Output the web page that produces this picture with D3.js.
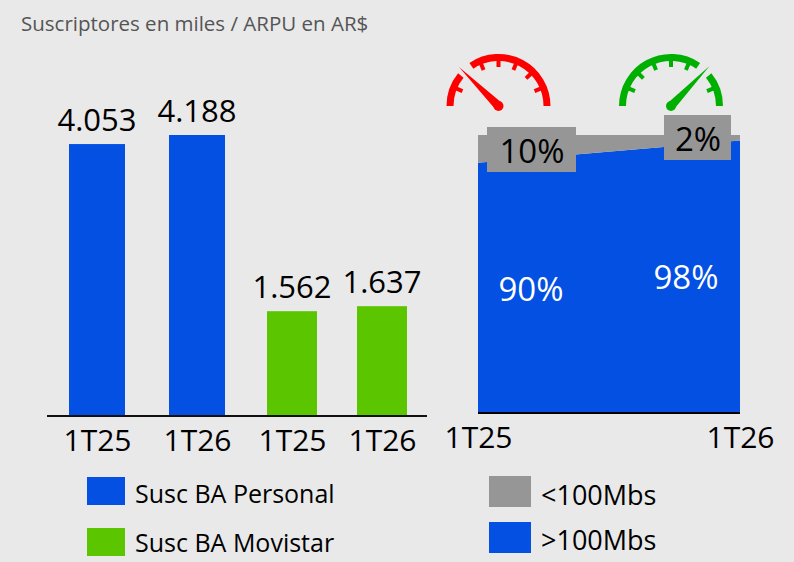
<!DOCTYPE html>
<html>
<head>
<meta charset="utf-8">
<script src="https://cdn.jsdelivr.net/npm/d3@7"></script>
<style>
html, body { margin: 0; padding: 0; background: #e9e9e9; }
svg { display: block; }
text { font-family: "Open Sans", sans-serif; }
</style>
</head>
<body>
<svg width="794" height="562"></svg>
<script>
var title = "Suscriptores en miles / ARPU en AR$";

// barras
var barLabels = ["1T25", "1T26", "1T25", "1T26"];
var barValues = [4053, 4188, 1562, 1637];
var barText = ["4.053", "4.188", "1.562", "1.637"];
var barSeries = ["Personal", "Personal", "Movistar", "Movistar"];

// area
var periods = ["1T25", "1T26"];
var over100 = [90, 98];
var under100 = [10, 2];

var blue = "#0350e3", green = "#5bc500", grey = "#969696";

var svg = d3.select("svg");

svg.append("text")
	.attr("x", 21).attr("y", 31)
	.attr("font-size", 20.5)
	.attr("fill", "#555")
	.text(title);

// ---- bar chart ----
var x = d3.scaleOrdinal().domain(d3.range(4)).range([97, 197, 292, 382]);
var y = d3.scaleLinear().domain([0, 4188]).range([416, 135]);
var barWidth = {Personal: 56, Movistar: 50};

svg.selectAll(".bar")
	.data(barValues)
	.enter().append("rect")
	.attr("class", "bar")
	.attr("x", function(d, i) { return x(i) - barWidth[barSeries[i]] / 2; })
	.attr("y", function(d) { return y(d); })
	.attr("width", function(d, i) { return barWidth[barSeries[i]]; })
	.attr("height", function(d) { return y(0) - y(d); })
	.attr("fill", function(d, i) { return barSeries[i] == "Personal" ? blue : green; });

svg.selectAll(".barval")
	.data(barValues)
	.enter().append("text")
	.attr("class", "barval")
	.attr("x", function(d, i) { return x(i); })
	.attr("y", function(d) { return y(d) - 13; })
	.attr("text-anchor", "middle")
	.attr("font-size", 31)
	.attr("fill", "#000")
	.text(function(d, i) { return barText[i]; });

var xAxis = svg.append("g")
	.attr("transform", "translate(0,416)")
	.call(d3.axisBottom(x).tickSize(0).tickPadding(14).tickFormat(function(d) { return barLabels[d]; }));
xAxis.select(".domain").remove();
xAxis.selectAll("text").attr("font-size", 30).attr("font-family", null).attr("fill", "#000");

svg.append("line")
	.attr("x1", 47).attr("x2", 427)
	.attr("y1", 416).attr("y2", 416)
	.attr("stroke", "#111").attr("stroke-width", 2);

// ---- stacked area ----
var areaX = d3.scalePoint().domain(periods).range([478, 740]);
var areaY = d3.scaleLinear().domain([0, 100]).range([413, 135]);

var rows = periods.map(function(p, i) {
	return {period: p, over: over100[i], under: under100[i]};
});
var stack = d3.stack().keys(["over", "under"])(rows);
var area = d3.area()
	.x(function(d) { return areaX(d.data.period); })
	.y0(function(d) { return areaY(d[0]); })
	.y1(function(d) { return areaY(d[1]); });

svg.selectAll(".layer")
	.data(stack)
	.enter().append("path")
	.attr("class", "layer")
	.attr("fill", function(d) { return d.key == "over" ? blue : grey; })
	.attr("d", area);

svg.append("line")
	.attr("x1", 478).attr("x2", 740)
	.attr("y1", 413).attr("y2", 413)
	.attr("stroke", "#000").attr("stroke-width", 2);

var aAxis = svg.append("g")
	.attr("transform", "translate(0,413)")
	.call(d3.axisBottom(areaX).tickSize(0).tickPadding(14));
aAxis.select(".domain").remove();
aAxis.selectAll("text").attr("font-size", 30).attr("font-family", null).attr("fill", "#000");

// cajas grises con %
var boxes = [
	{x: 487, y: 127, w: 89, h: 45, cy: 163, i: 0},
	{x: 664, y: 115, w: 67, h: 45, cy: 151, i: 1}
];
svg.selectAll(".box")
	.data(boxes)
	.enter().append("rect")
	.attr("class", "box")
	.attr("x", function(d) { return d.x; })
	.attr("y", function(d) { return d.y; })
	.attr("width", function(d) { return d.w; })
	.attr("height", function(d) { return d.h; })
	.attr("fill", grey);

svg.selectAll(".boxval")
	.data(boxes)
	.enter().append("text")
	.attr("class", "boxval")
	.attr("x", function(d) { return d.x + d.w / 2 + 0.5; })
	.attr("y", function(d) { return d.cy; })
	.attr("text-anchor", "middle")
	.attr("font-size", 33)
	.attr("fill", "#000")
	.text(function(d) { return under100[d.i] + "%"; });

var overPos = [{x: 531, y: 301}, {x: 686, y: 289}];
svg.selectAll(".overval")
	.data(over100)
	.enter().append("text")
	.attr("class", "overval")
	.attr("x", function(d, i) { return overPos[i].x; })
	.attr("y", function(d, i) { return overPos[i].y; })
	.attr("text-anchor", "middle")
	.attr("font-size", 33)
	.attr("fill", "#fff")
	.text(function(d) { return d + "%"; });

// ---- velocimetros ----
var rad = Math.PI / 180;
function gauge(cx, cy, color, segments, ticks, tip) {
	var g = svg.append("g").attr("transform", "translate(" + cx + "," + cy + ")");
	var ring = d3.arc().innerRadius(45).outerRadius(52);
	segments.forEach(function(s) {
		g.append("path")
			.attr("fill", color)
			.attr("d", ring({startAngle: s[0] * rad, endAngle: s[1] * rad}));
	});
	ticks.forEach(function(a) {
		g.append("line")
			.attr("x1", 46 * Math.sin(a * rad)).attr("y1", -46 * Math.cos(a * rad))
			.attr("x2", 39 * Math.sin(a * rad)).attr("y2", -39 * Math.cos(a * rad))
			.attr("stroke", color).attr("stroke-width", 4);
	});
	// aguja
	var len = Math.sqrt(tip[0] * tip[0] + tip[1] * tip[1]);
	var nx = -tip[1] / len * 4.5, ny = tip[0] / len * 4.5;
	g.append("path")
		.attr("fill", color)
		.attr("d", "M" + tip[0] + "," + tip[1] + "L" + nx + "," + ny + "L" + (-nx) + "," + (-ny) + "Z");
	g.append("circle").attr("cx", 0).attr("cy", 0).attr("r", 5).attr("fill", color);
}
gauge(498.5, 106, "#ff0000", [[-90, -51], [-34, 90]], [-67.5, -22.5, 0, 22.5, 45, 67.5], [-39.5, -39]);
gauge(671, 106, "#00b000", [[-90, 34], [51, 90]], [-67.5, -45, -22.5, 0, 22.5, 67.5], [38.5, -40]);

// ---- leyendas ----
var legendLeft = [
	{label: "Susc BA Personal", color: blue, y: 477, h: 28, ty: 503},
	{label: "Susc BA Movistar", color: green, y: 528, h: 28, ty: 552}
];
var legendRight = [
	{label: "<100Mbs", color: grey, y: 476, h: 31, ty: 505},
	{label: ">100Mbs", color: blue, y: 522, h: 31, ty: 550}
];
function legend(items, sx, sw, tx, size) {
	items.forEach(function(d) {
		svg.append("rect").attr("x", sx).attr("y", d.y).attr("width", sw).attr("height", d.h).attr("fill", d.color);
		svg.append("text").attr("x", tx).attr("y", d.ty).attr("font-size", size).attr("fill", "#000").text(d.label);
	});
}
legend(legendLeft, 87, 38, 135, 25);
legend(legendRight, 489, 42, 541, 27);
</script>
</body>
</html>
